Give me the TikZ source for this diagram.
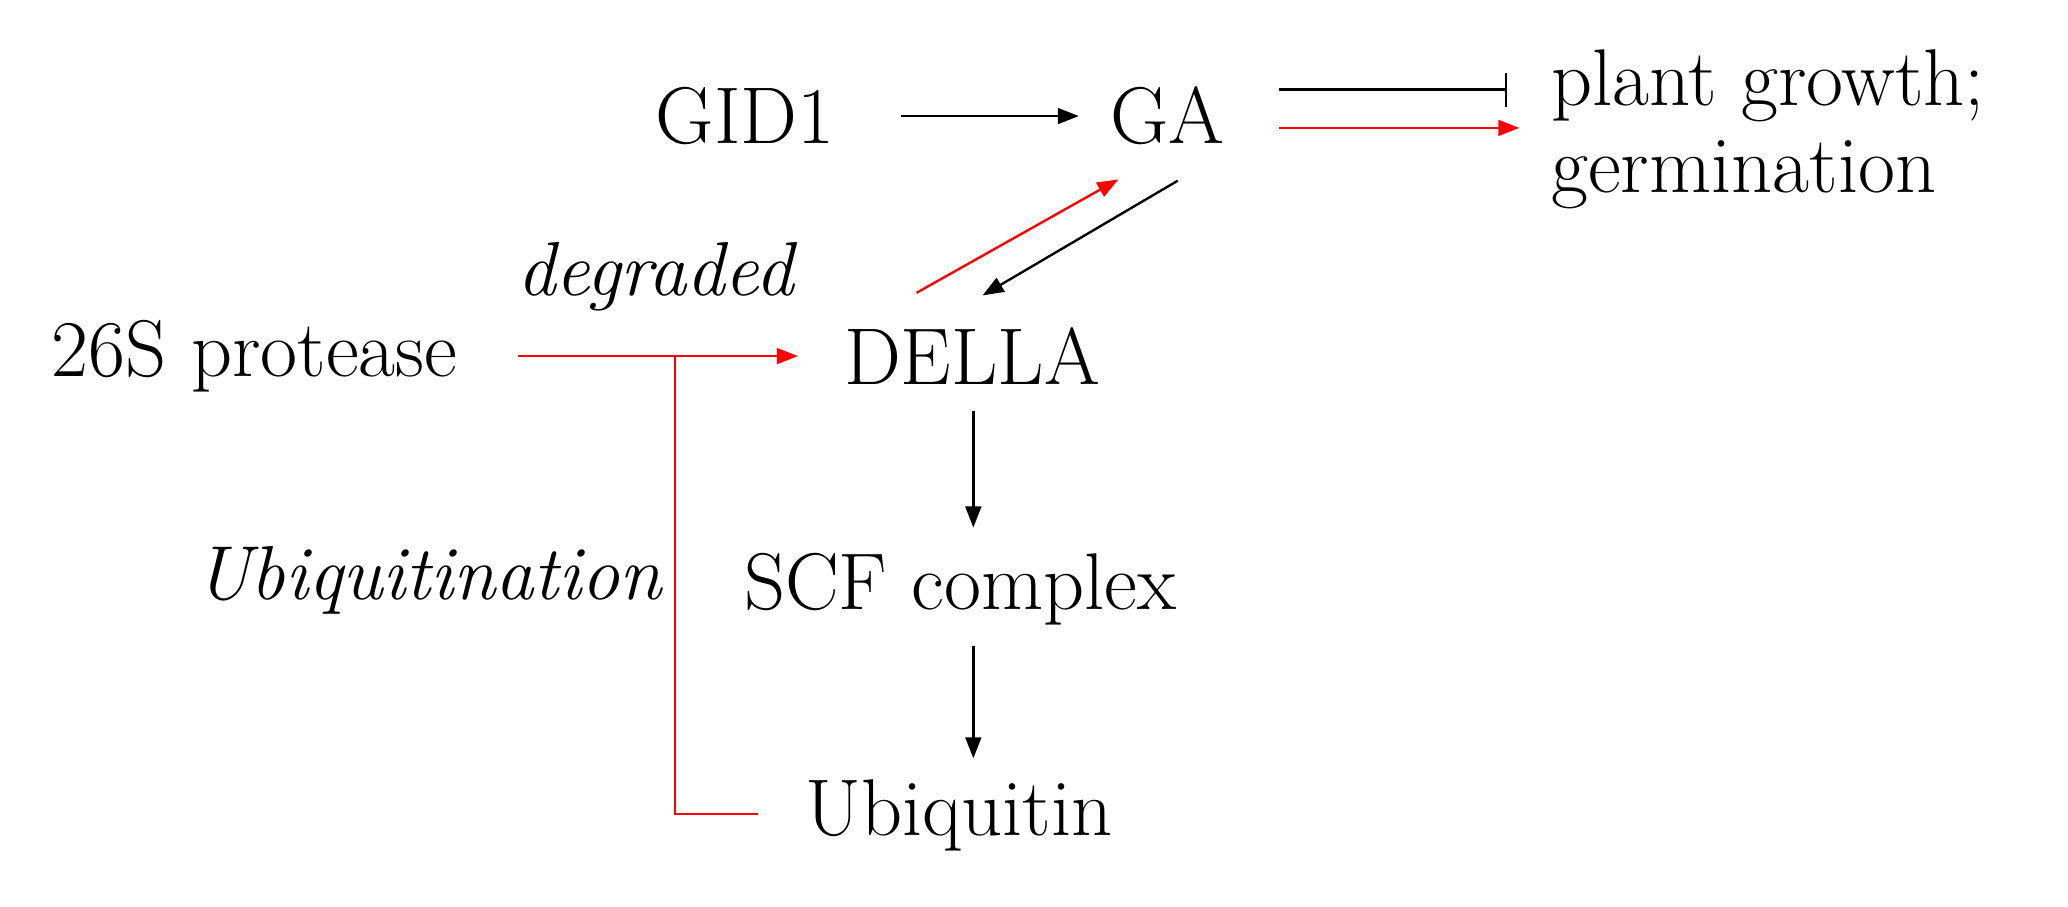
\documentclass[tikz,border=0pt]{standalone}
\usetikzlibrary{arrows.meta}
\begin{document}
\begin{tikzpicture}[x=1pt,y=-1pt,
  lbl/.style={font=\fontsize{61}{66}\selectfont, inner sep=0pt},
  il/.style={font=\fontsize{58}{64}\selectfont\itshape, inner sep=0pt},
  bk/.style={line width=1.8pt,-{Triangle[length=16pt,width=12pt]}},
  rd/.style={line width=1.8pt,red,-{Triangle[length=16pt,width=12pt]}}]
\useasboundingbox (0,0) rectangle (1568,687);
\node[lbl] (gid) at (565,88) {GID1};
\node[lbl] (ga) at (885,88) {GA};
\node[lbl,align=left,anchor=west] (pg) at (1176,98) {plant growth;\\germination};
\node[lbl] (p26) at (193,270) {26S protease};
\node[lbl] (della) at (737,270) {DELLA};
\node[lbl] (scf) at (728,447) {SCF complex};
\node[lbl] (ub) at (727,618) {Ubiquitin};
\node[il] (deg) at (497,210) {degraded};
\node[il,anchor=east] (ubn) at (502,440) {Ubiquitination};
\coordinate (j) at (512,270);
\coordinate (c) at (512,617);
\coordinate (gaA) at (970,68);
\coordinate (gaB) at (1143,68);
\coordinate (gaC) at (970,97);
\coordinate (gaD) at (1152,97);
\draw[bk] (683,88) -- (818,88);
\draw[line width=1.8pt,-{Bar[width=26pt]}] (gaA) -- (gaB);
\draw[rd] (gaC) -- (gaD);
\draw[rd] (695,222) -- (848,136);
\draw[bk] (893,137) -- (745,224);
\draw[rd] (393,270) -- (605,270);
\draw[red,line width=1.8pt] (j) -- (c) -- (575,617);
\draw[bk] (738,312) -- (738,400);
\draw[bk] (738,490) -- (738,575);
\end{tikzpicture}
\end{document}
